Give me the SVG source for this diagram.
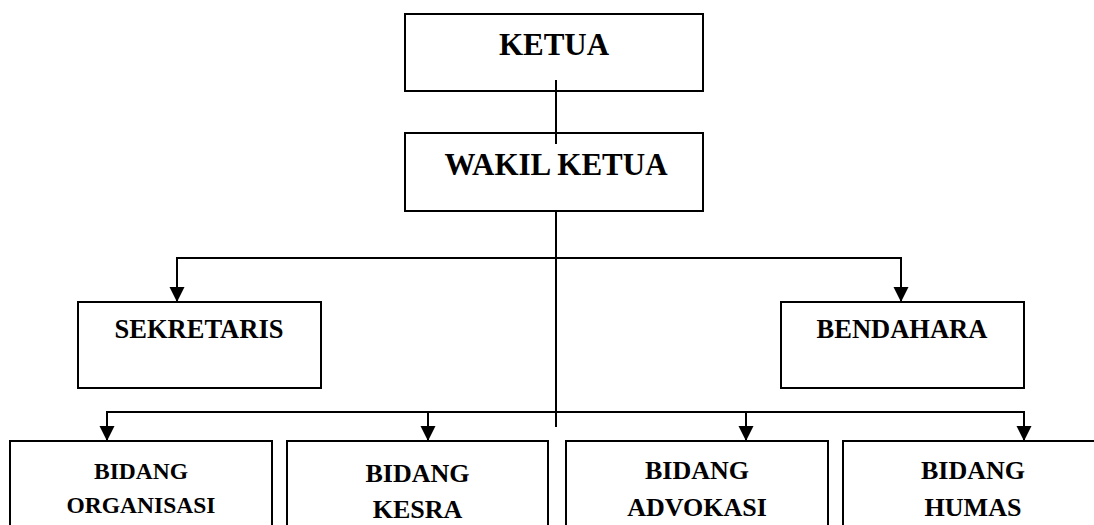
<svg xmlns="http://www.w3.org/2000/svg" width="1094" height="525" viewBox="0 0 1094 525">
<style>
.box{fill:#fff;stroke:#000;stroke-width:2}
.t{font-family:"Liberation Serif","Times New Roman",serif;font-weight:bold;fill:#000;text-anchor:middle}
.conn{fill:none;stroke:#000;stroke-width:2}
</style>
<defs>
<marker id="arr" markerUnits="userSpaceOnUse" markerWidth="16" markerHeight="16" refX="15" refY="8" orient="auto" viewBox="0 0 16 16">
<path d="M0,0.5 L15,8 L0,15.5 z" fill="#000"/>
</marker>
</defs>
<rect width="1094" height="525" fill="#fff"/>
<g id="ketua"><rect class="box" x="405" y="14" width="298" height="77"/><text class="t" x="554" y="55" font-size="31">KETUA</text></g>
<g id="wakil"><rect class="box" x="405" y="133" width="298" height="78"/><text class="t" x="556" y="175" font-size="31">WAKIL KETUA</text></g>
<g id="sekretaris"><rect class="box" x="78" y="302" width="243" height="86"/><text class="t" x="199" y="338" font-size="26.5">SEKRETARIS</text></g>
<g id="bendahara"><rect class="box" x="781" y="302" width="243" height="86"/><text class="t" x="902" y="338" font-size="26.5">BENDAHARA</text></g>
<g id="organisasi"><rect class="box" x="10" y="441" width="262" height="100"/><text class="t" x="141" y="479" font-size="23.5">BIDANG</text><text class="t" x="141" y="513" font-size="23.5">ORGANISASI</text></g>
<g id="kesra"><rect class="box" x="287" y="441" width="261" height="100"/><text class="t" x="417.5" y="482" font-size="26">BIDANG</text><text class="t" x="417.5" y="518" font-size="26">KESRA</text></g>
<g id="advokasi"><rect class="box" x="566" y="441" width="262" height="100"/><text class="t" x="697" y="479" font-size="26">BIDANG</text><text class="t" x="697" y="516" font-size="26">ADVOKASI</text></g>
<g id="humas"><rect class="box" x="843" y="441" width="262" height="100"/><text class="t" x="973" y="479" font-size="26">BIDANG</text><text class="t" x="973" y="516" font-size="26">HUMAS</text></g>
<g id="connectors">
<line class="conn" x1="556" y1="80" x2="556" y2="144"/>
<line class="conn" x1="556" y1="211" x2="556" y2="427"/>
<line class="conn" x1="176" y1="258" x2="902" y2="258"/>
<line class="conn" x1="177" y1="258" x2="177" y2="302" marker-end="url(#arr)"/>
<line class="conn" x1="901" y1="258" x2="901" y2="302" marker-end="url(#arr)"/>
<line class="conn" x1="106" y1="412" x2="1025" y2="412"/>
<line class="conn" x1="107" y1="412" x2="107" y2="441" marker-end="url(#arr)"/>
<line class="conn" x1="428" y1="412" x2="428" y2="441" marker-end="url(#arr)"/>
<line class="conn" x1="746" y1="412" x2="746" y2="441" marker-end="url(#arr)"/>
<line class="conn" x1="1024" y1="412" x2="1024" y2="441" marker-end="url(#arr)"/>
</g>
</svg>
